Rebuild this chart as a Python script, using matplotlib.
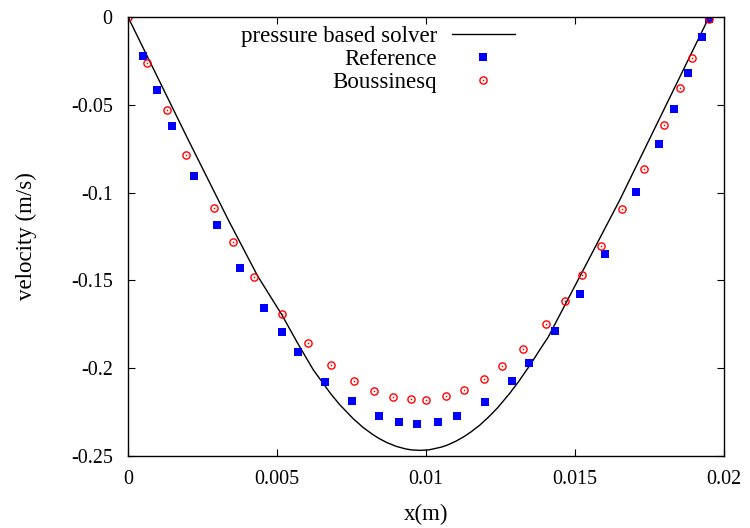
import matplotlib
matplotlib.use("Agg")
import matplotlib.pyplot as plt


# pressure based solver (solid line)
sol_x = [0.0, 0.0020, 0.00337, 0.00435, 0.00516, 0.0057, 0.00622, 0.0068, 0.0071,
         0.00756, 0.0079, 0.0082, 0.0084, 0.00868, 0.0090, 0.0093, 0.0095, 0.0098,
         0.0101, 0.0105, 0.0107, 0.0110, 0.0113, 0.0115, 0.0118, 0.0121, 0.0124,
         0.0128, 0.0131, 0.0135, 0.0138, 0.0141, 0.0165, 0.0195]
sol_y = [0.0, -0.0692, -0.1157, -0.1475, -0.1695, -0.1860, -0.2010, -0.2145, -0.2207,
         -0.2288, -0.2339, -0.2376, -0.2398, -0.2423, -0.2445, -0.2459, -0.2465, -0.2468,
         -0.2465, -0.2450, -0.2439, -0.2416, -0.2387, -0.2364, -0.2325, -0.2278, -0.2226,
         -0.2145, -0.2078, -0.1980, -0.1900, -0.1823, -0.1043, 0.0]

# Reference (blue squares)
ref_x = [0.00049, 0.00097, 0.00146, 0.00220, 0.00297, 0.00377, 0.00458, 0.00518,
         0.00572, 0.00662, 0.00753, 0.00843, 0.00910, 0.00970, 0.01041, 0.01105,
         0.01198, 0.01289, 0.01346, 0.01433, 0.01518, 0.01602, 0.01704, 0.01781,
         0.01832, 0.01879, 0.01926, 0.01950]
ref_y = [-0.0222, -0.0418, -0.0621, -0.0906, -0.1182, -0.1427, -0.1655, -0.1792,
         -0.1906, -0.2077, -0.2189, -0.2275, -0.2305, -0.2320, -0.2305, -0.2275,
         -0.2191, -0.2071, -0.1969, -0.1786, -0.1580, -0.1347, -0.0999, -0.0724,
         -0.0526, -0.0319, -0.0116, -0.0011]

# Boussinesq (red open circles)
bou_x = [0.0, 0.00065, 0.00131, 0.00196, 0.00287, 0.00353, 0.00424, 0.00517, 0.00605,
         0.00682, 0.00758, 0.00824, 0.00888, 0.00948, 0.01001, 0.01066, 0.01128,
         0.01196, 0.01255, 0.01324, 0.01403, 0.01468, 0.01523, 0.01586, 0.01657,
         0.01730, 0.01797, 0.01853, 0.01893, 0.01948]
bou_y = [0.0, -0.0260, -0.0528, -0.0785, -0.1089, -0.1279, -0.1478, -0.1691, -0.1859,
         -0.1980, -0.2071, -0.2127, -0.2162, -0.2176, -0.2180, -0.2159, -0.2125,
         -0.2062, -0.1988, -0.1891, -0.1750, -0.1615, -0.1467, -0.1304, -0.1096,
         -0.0863, -0.0614, -0.0403, -0.0234, -0.0013]

x_ticks = [0.0, 0.005, 0.01, 0.015, 0.02]
x_tick_labels = ["0", "0.005", "0.01", "0.015", "0.02"]
y_ticks = [0.0, -0.05, -0.1, -0.15, -0.2, -0.25]
y_tick_labels = ["0", "-0.05", "-0.1", "-0.15", "-0.2", "-0.25"]

plt.rcParams["font.family"] = ["Liberation Serif", "DejaVu Serif"]
plt.rcParams["axes.unicode_minus"] = False

fig = plt.figure(figsize=(7.5, 5.28), dpi=100)
fig.subplots_adjust(left=128 / 750, right=724 / 750, top=1 - 17 / 528, bottom=1 - 456 / 528)
ax = fig.add_subplot(111)

line, = ax.plot(sol_x, sol_y, color="black", linewidth=1.0)
ref, = ax.plot(ref_x, ref_y, linestyle="none", marker="s", markersize=5.2,
               color="#0000ff", markeredgewidth=0)
circ, = ax.plot(bou_x, bou_y, linestyle="none", marker="o", markersize=5.2,
                markerfacecolor="none", markeredgecolor="#ff0000", markeredgewidth=1.0)
dot, = ax.plot(bou_x, bou_y, linestyle="none", marker="o", markersize=1.2,
               color="#ff0000", markeredgewidth=0)

ax.set_xlim(0, 0.02)
ax.set_ylim(-0.25, 0)
ax.set_xticks(x_ticks)
ax.set_xticklabels(x_tick_labels)
ax.set_yticks(y_ticks)
ax.set_yticklabels(y_tick_labels)
ax.tick_params(direction="in", length=4.8, width=0.8, top=True, right=True,
               labelsize=14.4, colors="black")
ax.tick_params(axis="x", pad=10)
ax.tick_params(axis="y", pad=11)
for spine in ax.spines.values():
    spine.set_linewidth(1.0)

ax.set_xlabel("x(m)", fontsize=16.5)
ax.set_ylabel("velocity (m/s)", fontsize=16.5)
ax.xaxis.set_label_coords(0.5, -0.109)
ax.yaxis.set_label_coords(-0.152, 0.5)

ax.legend([line, ref, (circ, dot)],
          ["pressure based solver", "Reference", "Boussinesq"],
          loc="upper right", bbox_to_anchor=(515 / 750, 1 - 26 / 528),
          bbox_transform=fig.transFigure, frameon=False, markerfirst=False,
          fontsize=16.5, handlelength=2.75, handletextpad=0.65,
          labelspacing=0.08, borderpad=0, borderaxespad=0)

fig.savefig("out.png", dpi=100)
plt.close(fig)
